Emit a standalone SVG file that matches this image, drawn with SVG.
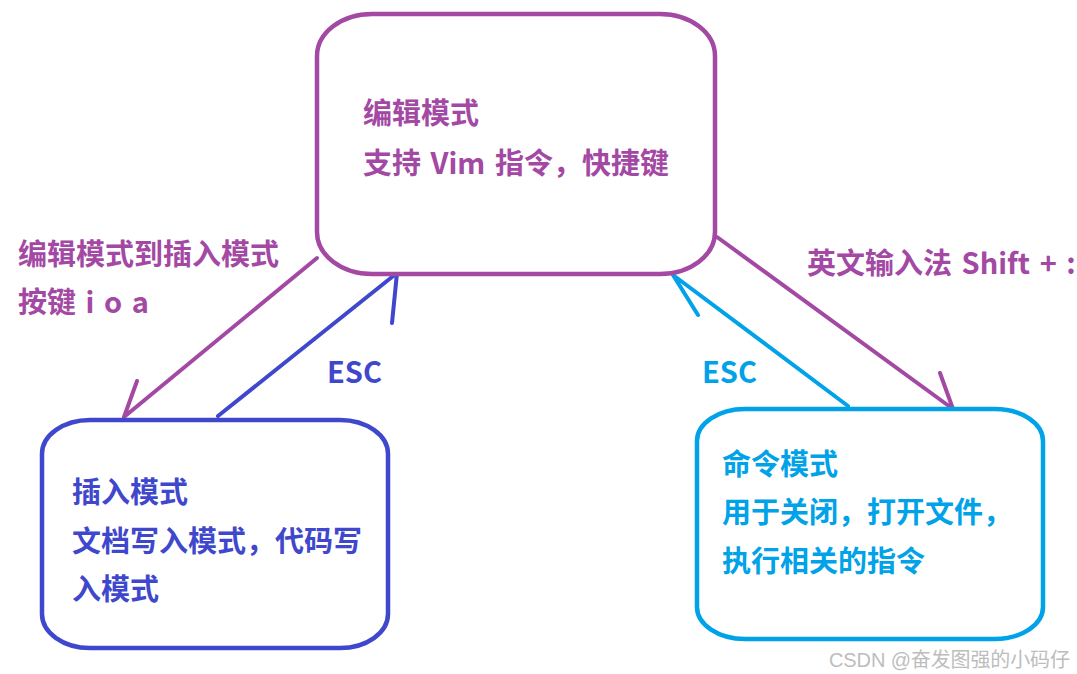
<svg xmlns="http://www.w3.org/2000/svg" width="1077" height="674" viewBox="0 0 1077 674">
<style>
.t{font-family:"Noto Sans CJK SC","Noto Sans",sans-serif;font-weight:bold;font-size:29px}
.w{word-spacing:3px}
.p{fill:#a349a4}
.b{fill:#3f48cc}
.c{fill:#00a2e8}
.box{fill:#ffffff;stroke-width:4.5}
.ln{fill:none;stroke-width:4;stroke-linecap:round;stroke-linejoin:round}
</style>
<rect width="1077" height="674" fill="#ffffff"/>
<g id="connectors">
<polyline class="ln" stroke="#a349a4" points="317,258 124,417 137,381"/>
<polyline class="ln" stroke="#3f48cc" points="218,416 397,273 392,323"/>
<polyline class="ln" stroke="#00a2e8" points="848,406 673,275 698,315"/>
<polyline class="ln" stroke="#a349a4" points="717,237 953,409 940,373"/>
<text class="t p" x="18" y="265">编辑模式到插入模式</text>
<text class="t p w" x="18" y="313" xml:space="preserve">按键 i o a</text>
<text class="t b" x="327" y="383">ESC</text>
<text class="t c" x="702" y="383">ESC</text>
<text class="t p w" x="807" y="274">英文输入法 Shift + :</text>
</g>
<g id="edit-mode">
<rect class="box" x="317" y="14" width="398" height="260" rx="55" ry="42" stroke="#a349a4"/>
<text class="t p" x="363" y="124">编辑模式</text>
<text class="t p w" x="363" y="174">支持 Vim 指令，快捷键</text>
</g>
<g id="insert-mode">
<rect class="box" x="42" y="420" width="346" height="228" rx="48" ry="34" stroke="#3f48cc"/>
<text class="t b" x="72" y="503">插入模式</text>
<text class="t b" x="72" y="552">文档写入模式，代码写</text>
<text class="t b" x="72" y="600">入模式</text>
</g>
<g id="command-mode">
<rect class="box" x="697" y="409" width="346" height="230" rx="48" ry="32" stroke="#00a2e8"/>
<text class="t c" x="722" y="475">命令模式</text>
<text class="t c" x="722" y="523">用于关闭，打开文件，</text>
<text class="t c" x="722" y="572">执行相关的指令</text>
</g>
<text x="829" y="667" font-family="'Liberation Sans','Noto Sans CJK SC',sans-serif" font-size="20" fill="#bdbdbd" textLength="241">CSDN @奋发图强的小码仔</text>
</svg>
